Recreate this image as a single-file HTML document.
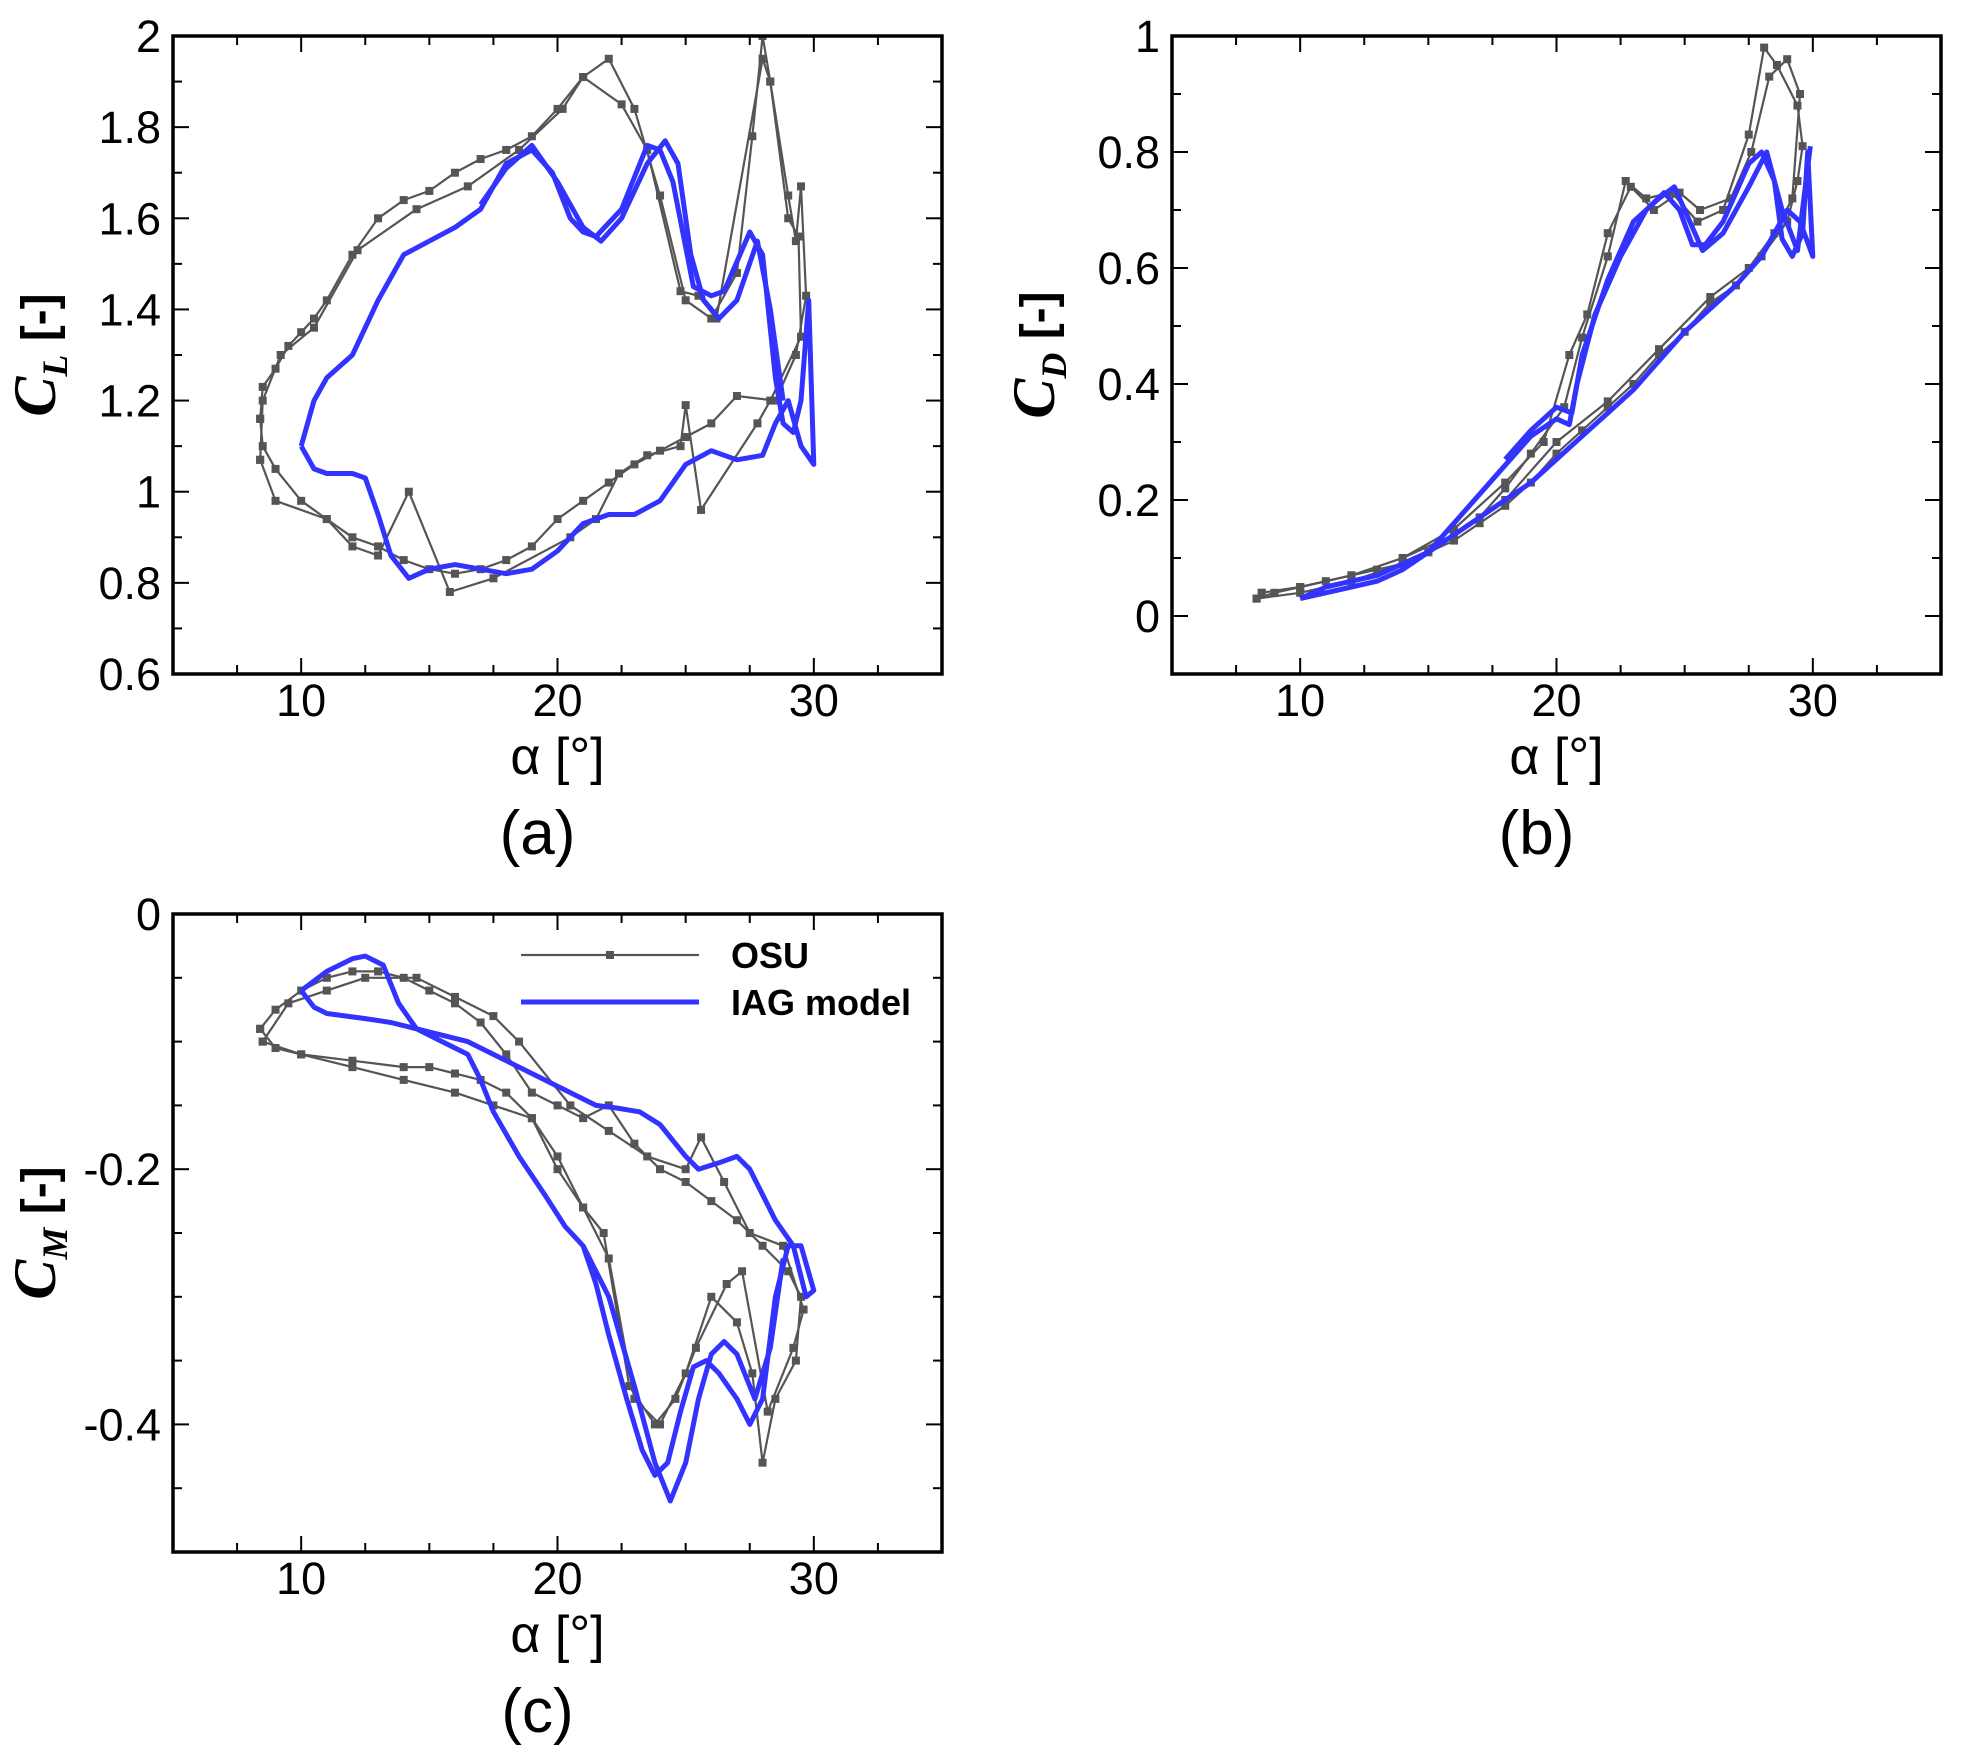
<!DOCTYPE html>
<html><head><meta charset="utf-8"><style>
html,body{margin:0;padding:0;background:#fff}
svg{display:block}
text{font-family:"Liberation Sans",Arial,sans-serif}
</style></head><body>
<svg id="fig" width="1961" height="1761" viewBox="0 0 1961 1761"></svg>
<script>
// ---------- DATA ----------
// Panel (a) CL
const aBlueA=[10,10.5,11,12,13,14,15,16,17,18,19,19.8,20.5,21,21.5,22.5,23.5,24,24.5,25.3,26,26.5,27.5,28,28.5,28.8,29.2,29.5,29.8,30,29.5,29,28.5,28,27,26,25,24,23,22,21,20,19,18,17,16,15,14.2,13.5,13,12.5,12,11,10.5,10];
const aBlueV=[1.10,1.2,1.25,1.3,1.42,1.52,1.55,1.58,1.62,1.72,1.75,1.70,1.60,1.57,1.56,1.62,1.76,1.75,1.68,1.45,1.43,1.44,1.57,1.52,1.25,1.15,1.13,1.2,1.42,1.06,1.1,1.2,1.15,1.08,1.07,1.09,1.06,0.98,0.95,0.95,0.93,0.87,0.83,0.82,0.83,0.84,0.83,0.81,0.86,0.95,1.03,1.04,1.04,1.05,1.10];
const aBlue2A=[17,18,19,20,21,21.7,22.5,23.5,24.2,24.7,25.2,25.7,26.3,27,27.8,28.3,28.8];
const aBlue2V=[1.63,1.71,1.76,1.68,1.58,1.55,1.60,1.72,1.77,1.72,1.52,1.42,1.38,1.42,1.55,1.40,1.20];
const aOsu1A=[8.4,8.5,9,9.5,10,10.5,11,12,13,14,15,16,17,18,19,20,21,22,23,24,25,26,27,27.6,28,28.3,29,29.3,29.5,29.7,29.3,28.5,27,26,25,24,23,22,21,20,19,18,17,16,15,14,13,12,11,10,9,8.5,8.4];
const aOsu1V=[1.16,1.23,1.27,1.32,1.35,1.38,1.42,1.52,1.60,1.64,1.66,1.70,1.73,1.75,1.78,1.84,1.91,1.95,1.84,1.65,1.42,1.38,1.48,1.78,2.0,1.90,1.65,1.55,1.67,1.43,1.30,1.20,1.21,1.15,1.12,1.09,1.06,1.02,0.98,0.94,0.88,0.85,0.83,0.82,0.83,0.85,0.88,0.90,0.94,0.98,1.05,1.10,1.16];
const aOsu2A=[8.4,8.5,9.2,10.5,12.2,14.5,16.5,18.5,20.2,21,22.5,23.5,24.8,25.5,26.2,28,28.3,29,29.4,29.5,28.3,27.8,25.6,25,24.8,23.5,22.4,21.5,20.5,17.5,15.8,14.2,13,12,11,9,8.4];
const aOsu2V=[1.07,1.2,1.3,1.36,1.53,1.62,1.67,1.75,1.84,1.91,1.85,1.75,1.44,1.43,1.38,1.95,1.90,1.60,1.56,1.34,1.20,1.15,0.96,1.19,1.10,1.08,1.04,0.94,0.90,0.81,0.78,1.0,0.86,0.88,0.94,0.98,1.07];
// Panel (b) CD
const bBlueA=[10,11,12,13,14,15,16,17,18,19,20,20.5,20.8,21.5,22.5,23.5,24.2,24.8,25.3,25.8,26.5,27.5,28,28.5,28.8,29.2,29.6,29.8,30,29.5,29,28.5,28,27,26,25,24,23,22,21,20,19,18,17,16,15,14,13,12,11,10];
const bBlueV=[0.03,0.05,0.06,0.07,0.09,0.11,0.16,0.21,0.26,0.31,0.34,0.33,0.40,0.52,0.62,0.70,0.73,0.70,0.64,0.64,0.68,0.78,0.80,0.75,0.65,0.62,0.66,0.80,0.62,0.68,0.70,0.66,0.62,0.57,0.53,0.49,0.44,0.39,0.35,0.31,0.27,0.23,0.20,0.17,0.14,0.11,0.08,0.06,0.05,0.04,0.03];
const bBlue2A=[18,19,20,20.6,21,22,23,24,24.6,25.2,25.7,26.5,27.5,28.2,28.8,29.4,29.9];
const bBlue2V=[0.27,0.32,0.36,0.35,0.45,0.58,0.68,0.72,0.74,0.68,0.63,0.66,0.74,0.80,0.70,0.63,0.81];
const bOsu1A=[8.3,9,10,11,12,13,14,15,16,17,18,19,20,21,22,23,24,25,26,27,28,29,29.4,29.6,29.4,28.6,28.1,27.5,26.5,25.5,24.5,23.5,22.7,22,21,20.3,19,18,17,16,15,14,12,10,8.3];
const bOsu1V=[0.03,0.04,0.05,0.06,0.07,0.08,0.09,0.11,0.13,0.16,0.19,0.23,0.28,0.32,0.36,0.40,0.45,0.49,0.54,0.57,0.62,0.68,0.75,0.81,0.88,0.95,0.98,0.83,0.70,0.68,0.73,0.72,0.75,0.62,0.48,0.36,0.28,0.22,0.17,0.14,0.11,0.09,0.06,0.04,0.03];
const bOsu2A=[8.5,10,12,14,16,18,20,22,24,26,27.5,28.5,29.2,29.5,29,28.3,27.6,26.8,25.6,24.8,23.8,22.9,22,21.2,20.5,19.5,18,16,14,12,10,8.5];
const bOsu2V=[0.04,0.05,0.07,0.10,0.14,0.20,0.30,0.37,0.46,0.55,0.60,0.66,0.72,0.90,0.96,0.93,0.80,0.72,0.70,0.73,0.70,0.74,0.66,0.52,0.45,0.30,0.23,0.15,0.10,0.07,0.05,0.04];
// Panel (c) CM
const cBlueA=[10,11,12,12.5,13.2,13.8,14.5,15.5,16.5,17,17.5,18.5,19.5,20.3,21,21.5,22,22.7,23.3,23.8,24.3,24.8,25.3,25.8,26.3,27,27.5,28,28.5,29,29.5,30,29.7,29.2,28.5,27.5,27,26.3,25.5,25,24,23.2,22.3,21.5,20.5,19.5,18.5,17.5,16.5,15.5,14.5,13.5,12.5,11,10.5,10];
const cBlueV=[-0.06,-0.045,-0.035,-0.033,-0.04,-0.07,-0.09,-0.10,-0.11,-0.13,-0.155,-0.19,-0.22,-0.245,-0.26,-0.29,-0.33,-0.38,-0.42,-0.44,-0.43,-0.39,-0.355,-0.35,-0.36,-0.38,-0.40,-0.38,-0.30,-0.26,-0.26,-0.295,-0.30,-0.26,-0.24,-0.20,-0.19,-0.195,-0.20,-0.19,-0.165,-0.155,-0.152,-0.15,-0.14,-0.13,-0.12,-0.11,-0.10,-0.095,-0.09,-0.085,-0.082,-0.078,-0.073,-0.06];
const cBlue2A=[21,22,23,23.8,24.4,25,25.5,26,26.5,27,27.7,28.3,28.8];
const cBlue2V=[-0.26,-0.30,-0.37,-0.43,-0.46,-0.43,-0.38,-0.345,-0.335,-0.345,-0.38,-0.34,-0.27];
const cOsu1A=[8.4,9,10,11,12,13,14,15,16,17,18,19,20,21,22,23,24,25,26,27,28,29,29.5,29.3,28.5,28,27.6,27,26,25,24,23,22,21,20,19,18,17,16,15,14,12,10,9,8.4];
const cOsu1V=[-0.09,-0.075,-0.06,-0.05,-0.045,-0.045,-0.05,-0.06,-0.07,-0.085,-0.11,-0.14,-0.15,-0.16,-0.15,-0.18,-0.20,-0.21,-0.225,-0.24,-0.26,-0.28,-0.30,-0.35,-0.38,-0.43,-0.36,-0.32,-0.30,-0.36,-0.40,-0.38,-0.27,-0.23,-0.19,-0.16,-0.14,-0.13,-0.125,-0.12,-0.12,-0.115,-0.11,-0.105,-0.09];
const cOsu2A=[8.5,9.5,11,12.5,14.5,16,17.5,18.5,20.5,22,23.5,25,25.6,26.5,27.5,28.8,29.6,29.2,28.2,27.2,26.6,25.4,24.6,23.8,22.8,21.8,21,20,19,17.5,16,14,12,10,8.5];
const cOsu2V=[-0.10,-0.07,-0.06,-0.05,-0.05,-0.065,-0.08,-0.10,-0.15,-0.17,-0.19,-0.20,-0.175,-0.21,-0.25,-0.26,-0.31,-0.34,-0.39,-0.28,-0.29,-0.34,-0.38,-0.40,-0.37,-0.25,-0.23,-0.20,-0.16,-0.15,-0.14,-0.13,-0.12,-0.11,-0.10];
// Ticks
const xTicks=[10,20,30];
const aYTicks=[0.6,0.8,1,1.2,1.4,1.6,1.8,2];
const bYTicks=[0,0.2,0.4,0.6,0.8,1];
const cYTicks=[-0.4,-0.2,0];

// ---------- DRAW ----------
const NS='http://www.w3.org/2000/svg';
const svg=document.getElementById('fig');
function mk(tag,attrs,parent){const e=document.createElementNS(NS,tag);for(const k in attrs)e.setAttribute(k,attrs[k]);(parent||svg).appendChild(e);return e;}
function fmt(v){return String(Math.round(v*10)/10);}

function panel(cfg){
  const g=mk('g',{});
  
  
  const L=cfg.l,R=cfg.r,T=cfg.t,B=cfg.b;
  const sx=v=>L+(v-5)/30*(R-L);
  const sy=v=>B-(v-cfg.y0)/(cfg.y1-cfg.y0)*(B-T);
  const clip='clip-'+cfg.id;
  const cp=mk('clipPath',{id:clip},g);mk('rect',{x:L,y:T,width:R-L,height:B-T},cp);
  for(let v=5;v<=35.001;v+=2.5){
    const major=Math.abs(v/10-Math.round(v/10))<1e-6;
    const len=major?16:9;
    mk('line',{x1:sx(v),x2:sx(v),y1:B,y2:B-len,stroke:'#000','stroke-width':2},g);
    mk('line',{x1:sx(v),x2:sx(v),y1:T,y2:T+len,stroke:'#000','stroke-width':2},g);
  }
  for(let v=cfg.y0;v<=cfg.y1+1e-6;v+=cfg.minor){
    const major=cfg.yt.some(t=>Math.abs(t-v)<1e-6);
    const len=major?16:9;
    mk('line',{x1:L,x2:L+len,y1:sy(v),y2:sy(v),stroke:'#000','stroke-width':2},g);
    mk('line',{x1:R,x2:R-len,y1:sy(v),y2:sy(v),stroke:'#000','stroke-width':2},g);
  }
  xTicks.forEach(t=>{const e=mk('text',{x:sx(t),y:B+42,'font-size':45,'text-anchor':'middle'},g);e.textContent=t;
    });
  cfg.yt.forEach(t=>{const e=mk('text',{x:L-12,y:sy(t)+16,'font-size':45,'text-anchor':'end'},g);e.textContent=fmt(t);
    });
  const pg=mk('g',{'clip-path':'url(#'+clip+')'},g);
  function line(A,V,color,w,name,markers){
    const d=A.map((a,i)=>(i?'L':'M')+sx(a).toFixed(1)+' '+sy(V[i]).toFixed(1)).join(' ');
    const p=mk('path',{d:d,fill:'none',stroke:color,'stroke-width':w,'stroke-linejoin':'round'},pg);
    
    if(markers){A.forEach((a,i)=>{const r=mk('rect',{x:sx(a)-4,y:sy(V[i])-4,width:8,height:8,fill:'#555'},pg);
      });}
  }
  cfg.osu.forEach(s=>line(s[0],s[1],'#555',2.2,'osu-series',true));
  cfg.blue.forEach(s=>line(s[0],s[1],'#3333ff',5,'iag-model-series',false));
  mk('rect',{x:L,y:T,width:R-L,height:B-T,fill:'none',stroke:'#000','stroke-width':3.5},g);
  const xt=mk('text',{x:(L+R)/2,y:B+100,'font-size':52,'text-anchor':'middle'},g);xt.textContent='α [°]';
  
  const yt=mk('text',{transform:`translate(${L-118},${(T+B)/2}) rotate(-90)`,'text-anchor':'middle','font-size':48,'font-weight':'bold'},g);
  
  const c=mk('tspan',{'font-family':'Liberation Serif,serif','font-style':'italic','font-size':60},yt);c.textContent='C';
  const s=mk('tspan',{'font-family':'Liberation Serif,serif','font-style':'italic','font-size':36,dy:12},yt);s.textContent=cfg.sub;
  const r=mk('tspan',{dy:-12},yt);r.textContent=' [-]';
  const pl=mk('text',{x:(L+R)/2-20,y:B+180,'font-size':62,'text-anchor':'middle'},g);pl.textContent=cfg.label;
  
  return {sx,sy,g};
}

panel({id:'a',name:'lift-coefficient-plot',l:173,r:942,t:36,b:674,y0:0.6,y1:2,minor:0.1,yt:aYTicks,sub:'L',label:'(a)',
  osu:[[aOsu1A,aOsu1V],[aOsu2A,aOsu2V]],blue:[[aBlueA,aBlueV],[aBlue2A,aBlue2V]]});
panel({id:'b',name:'drag-coefficient-plot',l:1172,r:1941,t:36,b:674,y0:-0.1,y1:1,minor:0.1,yt:bYTicks,sub:'D',label:'(b)',
  osu:[[bOsu1A,bOsu1V],[bOsu2A,bOsu2V]],blue:[[bBlueA,bBlueV],[bBlue2A,bBlue2V]]});
const pc=panel({id:'c',name:'moment-coefficient-plot',l:173,r:942,t:914,b:1552,y0:-0.5,y1:0,minor:0.05,yt:cYTicks,sub:'M',label:'(c)',
  osu:[[cOsu1A,cOsu1V],[cOsu2A,cOsu2V]],blue:[[cBlueA,cBlueV],[cBlue2A,cBlue2V]]});

const lg=mk('g',{},pc.g);


mk('line',{x1:521,x2:699,y1:955,y2:955,stroke:'#555','stroke-width':2.2},lg);
mk('rect',{x:606,y:951,width:8,height:8,fill:'#555'},lg);
mk('line',{x1:521,x2:699,y1:1002,y2:1002,stroke:'#3333ff','stroke-width':5},lg);
const l1=mk('text',{x:731,y:968,'font-size':36,'font-weight':'bold'},lg);l1.textContent='OSU';

const l2=mk('text',{x:731,y:1015,'font-size':36,'font-weight':'bold'},lg);l2.textContent='IAG model';

</script>
</body></html>
